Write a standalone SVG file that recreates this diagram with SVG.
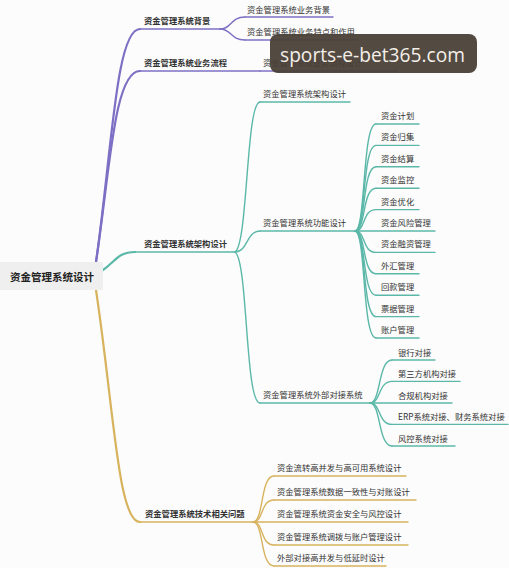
<svg xmlns="http://www.w3.org/2000/svg" width="509" height="568" viewBox="0 0 509 568">
<style>
text{font-family:"Noto Sans CJK SC","Noto Sans",sans-serif;fill:#333;font-size:8.3px;dominant-baseline:central}
.l1{font-weight:bold}
.root{font-size:10.5px;font-weight:bold;fill:#222}
.p{stroke:#7d70c4;fill:none;stroke-width:1.4;stroke-linecap:round}
.t{stroke:#5bb8a9;fill:none;stroke-width:1.4;stroke-linecap:round}
.y{stroke:#d8b35e;fill:none;stroke-width:1.4;stroke-linecap:round}
.trunk{stroke-width:2.2}
</style>
<rect width="509" height="568" fill="#fcfcfc"/>
<g id="connectors">
  <path class="p trunk" d="M96,262 C112,150 116,29 140,29"/>
  <path class="p trunk" d="M96,262 C110,170 114,71 140,71"/>
  <path class="p" d="M220,29 C232,29 230,17 245,17"/>
  <path class="p" d="M220,29 C232,29 230,40 245,40"/>
  <path class="t trunk" d="M103,270 C115,262 118,252 135,252"/>
  <path class="t" d="M235,252 C248,245 246,102 260,102"/>
  <path class="t" d="M235,252 C248,252 246,231 260,231"/>
  <path class="t" d="M235,252 C248,260 245,403 260,403"/>
  <path class="t" d="M355,231 C366,231 362,124 376,124"/>
  <path class="t" d="M355,231 C366,231 362,145.4 376,145.4"/>
  <path class="t" d="M355,231 C366,231 362,166.8 376,166.8"/>
  <path class="t" d="M355,231 C366,231 362,188.2 376,188.2"/>
  <path class="t" d="M355,231 C366,231 362,209.6 376,209.6"/>
  <path class="t" d="M355,231 C366,231 362,252.4 376,252.4"/>
  <path class="t" d="M355,231 C366,231 362,273.8 376,273.8"/>
  <path class="t" d="M355,231 C366,231 362,295.2 376,295.2"/>
  <path class="t" d="M355,231 C366,231 362,316.6 376,316.6"/>
  <path class="t" d="M355,231 C366,231 362,338 376,338"/>
  <path class="t" d="M370,403 C381,403 378,360 392,360"/>
  <path class="t" d="M370,403 C381,403 378,381.4 392,381.4"/>
  <path class="t" d="M370,403 C381,403 378,424.4 392,424.4"/>
  <path class="t" d="M370,403 C381,403 378,446 392,446"/>
  <path class="y trunk" d="M96,290 C114,410 118,522 140,522"/>
  <path class="y" d="M253,522 C264,522 260,476 274,476"/>
  <path class="y" d="M253,522 C264,522 260,500 274,500"/>
  <path class="y" d="M253,522 C264,522 260,545 274,545"/>
  <path class="y" d="M253,522 C264,522 260,566 274,566"/>
</g>
<g id="root">
  <rect x="0" y="262" width="103" height="28" fill="#efefef"/>
  <text class="root" x="10" y="276">资金管理系统设计</text>
</g>
<g id="n-bg">
  <line class="p" x1="140" y1="29" x2="220" y2="29"/>
  <text class="l1" x="144" y="20">资金管理系统背景</text>
</g>
<g id="n-bg1">
  <line class="p" x1="245" y1="17" x2="333" y2="17"/>
  <text x="247" y="8.5">资金管理系统业务背景</text>
</g>
<g id="n-bg2">
  <line class="p" x1="245" y1="40" x2="358" y2="40"/>
  <text x="247" y="31">资金管理系统业务特点和作用</text>
</g>
<g id="n-flow">
  <line class="p" x1="140" y1="71" x2="260" y2="71"/>
  <text class="l1" x="144" y="62">资金管理系统业务流程</text>
</g>
<g id="n-flow1">
  <line class="p" x1="260" y1="71" x2="397" y2="71"/>
  <text x="263" y="62">资金管理系统业务流程设计</text>
</g>
<g id="n-arch">
  <line class="t" x1="135" y1="252" x2="235" y2="252"/>
  <text class="l1" x="144" y="243">资金管理系统架构设计</text>
</g>
<g id="n-arch1">
  <line class="t" x1="260" y1="102" x2="350" y2="102"/>
  <text x="263" y="93">资金管理系统架构设计</text>
</g>
<g id="n-func">
  <line class="t" x1="260" y1="231" x2="355" y2="231"/>
  <text x="263" y="222">资金管理系统功能设计</text>
</g>
<g id="f1"><line class="t" x1="376" y1="124" x2="419" y2="124"/><text x="381" y="115">资金计划</text></g>
<g id="f2"><line class="t" x1="376" y1="145.4" x2="419" y2="145.4"/><text x="381" y="136.4">资金归集</text></g>
<g id="f3"><line class="t" x1="376" y1="166.8" x2="419" y2="166.8"/><text x="381" y="157.8">资金结算</text></g>
<g id="f4"><line class="t" x1="376" y1="188.2" x2="419" y2="188.2"/><text x="381" y="179.2">资金监控</text></g>
<g id="f5"><line class="t" x1="376" y1="209.6" x2="419" y2="209.6"/><text x="381" y="200.6">资金优化</text></g>
<g id="f6"><line class="t" x1="355" y1="231" x2="435" y2="231"/><text x="381" y="222">资金风险管理</text></g>
<g id="f7"><line class="t" x1="376" y1="252.4" x2="435" y2="252.4"/><text x="381" y="243.4">资金融资管理</text></g>
<g id="f8"><line class="t" x1="376" y1="273.8" x2="419" y2="273.8"/><text x="381" y="264.8">外汇管理</text></g>
<g id="f9"><line class="t" x1="376" y1="295.2" x2="419" y2="295.2"/><text x="381" y="286.2">回款管理</text></g>
<g id="f10"><line class="t" x1="376" y1="316.6" x2="419" y2="316.6"/><text x="381" y="307.6">票据管理</text></g>
<g id="f11"><line class="t" x1="376" y1="338" x2="419" y2="338"/><text x="381" y="329">账户管理</text></g>
<g id="n-ext">
  <line class="t" x1="260" y1="403" x2="370" y2="403"/>
  <text x="263" y="394">资金管理系统外部对接系统</text>
</g>
<g id="e1"><line class="t" x1="392" y1="360" x2="435" y2="360"/><text x="398" y="351.5">银行对接</text></g>
<g id="e2"><line class="t" x1="392" y1="381.4" x2="460" y2="381.4"/><text x="398" y="372.9">第三方机构对接</text></g>
<g id="e3"><line class="t" x1="370" y1="403" x2="452" y2="403"/><text x="398" y="394.5">合规机构对接</text></g>
<g id="e4"><line class="t" x1="392" y1="424.4" x2="508" y2="424.4"/><text x="398" y="415.9">ERP系统对接、财务系统对接</text></g>
<g id="e5"><line class="t" x1="392" y1="446" x2="455" y2="446"/><text x="398" y="437.5">风控系统对接</text></g>
<g id="n-tech">
  <line class="y" x1="140" y1="522" x2="253" y2="522"/>
  <text class="l1" x="145" y="513">资金管理系统技术相关问题</text>
</g>
<g id="t1"><line class="y" x1="274" y1="476" x2="406" y2="476"/><text x="277" y="467">资金流转高并发与高可用系统设计</text></g>
<g id="t2"><line class="y" x1="274" y1="500" x2="416" y2="500"/><text x="277" y="491">资金管理系统数据一致性与对账设计</text></g>
<g id="t3"><line class="y" x1="253" y1="522" x2="408" y2="522"/><text x="277" y="513">资金管理系统资金安全与风控设计</text></g>
<g id="t4"><line class="y" x1="274" y1="545" x2="408" y2="545"/><text x="277" y="536">资金管理系统调拨与账户管理设计</text></g>
<g id="t5"><line class="y" x1="274" y1="566" x2="386" y2="566"/><text x="277" y="557">外部对接高并发与低延时设计</text></g>
<g id="watermark">
  <rect x="270" y="34" width="207" height="39" rx="8" fill="#4a4038" fill-opacity="0.95"/>
  <text x="280" y="54" textLength="185" lengthAdjust="spacingAndGlyphs" style="font-family:'Open Sans','DejaVu Sans',sans-serif;font-size:20px;fill:#f3efe8">sports-e-bet365.com</text>
</g>
</svg>
